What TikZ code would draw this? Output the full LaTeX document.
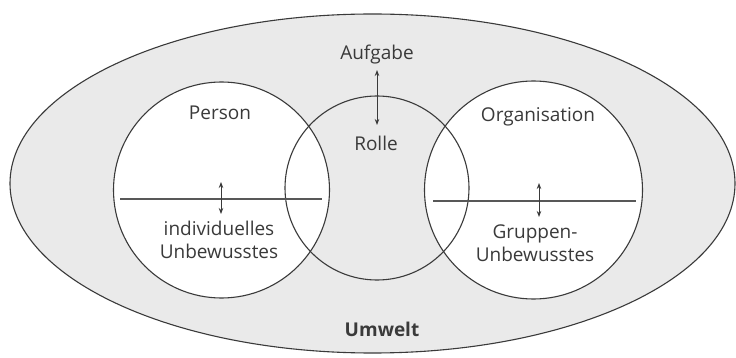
\documentclass[tikz,border=0pt]{standalone}
\usepackage{fontspec}
\setmainfont{Open Sans}
\usetikzlibrary{arrows.meta}
\definecolor{ink}{HTML}{3A3A3A}
\definecolor{bgray}{HTML}{EAEAEA}
\begin{document}
\begin{tikzpicture}[x=1pt,y=-1pt,
  lbl/.style={text=ink,font=\fontsize{19}{22.5}\selectfont,inner sep=0pt,align=center},
  ring/.style={draw=ink,line width=1.1pt},
  link/.style={draw=ink,line width=0.9pt,{Stealth[length=6pt,width=4.5pt]}-{Stealth[length=6pt,width=4.5pt]}},
  bar/.style={draw=ink!85,line width=1.2pt}]
\useasboundingbox (0,0) rectangle (736,358);
\fill[white] (0,0) rectangle (736,358);
% outer ellipse
\path[ring,fill=bgray] (372.5,183.5) ellipse [x radius=362.5, y radius=169.5];
% circles
\path[fill=white] (221.5,190) circle (108);
\path[fill=white] (533.5,190) circle (109);
\path[ring] (377,188) circle (92);
\path[ring] (221.5,190) circle (108);
\path[ring] (533.5,190) circle (109);
% bars
\coordinate (pl) at (120,199);
\coordinate (pr) at (322,199);
\coordinate (ol) at (433,201);
\coordinate (or) at (636,201);
\draw[bar] (pl) -- (pr);
\draw[bar] (ol) -- (or);
% labels
\node[lbl] (aufgabe) at (377,55) {Aufgabe};
\node[lbl] (rolle) at (376,143) {Rolle};
\node[lbl] (person) at (220,113) {Person};
\node[lbl] (org) at (538,117) {Organisation};
\node[lbl] (indiv) at (219,240) {individuelles\\Unbewusstes};
\node[lbl] (grup) at (535,243) {Gruppen-\\Unbewusstes};
\node[lbl,font=\fontsize{19}{22.5}\selectfont\bfseries] (umwelt) at (382,329) {Umwelt};
% arrows
\coordinate (pa1) at (221,182);
\coordinate (pa2) at (221,214);
\coordinate (oa1) at (539,183);
\coordinate (oa2) at (539,217);
\coordinate (aa1) at (377,70);
\coordinate (aa2) at (377,125);
\draw[link] (pa1) -- (pa2);
\draw[link] (oa1) -- (oa2);
\draw[link] (aa1) -- (aa2);
\end{tikzpicture}
\end{document}
